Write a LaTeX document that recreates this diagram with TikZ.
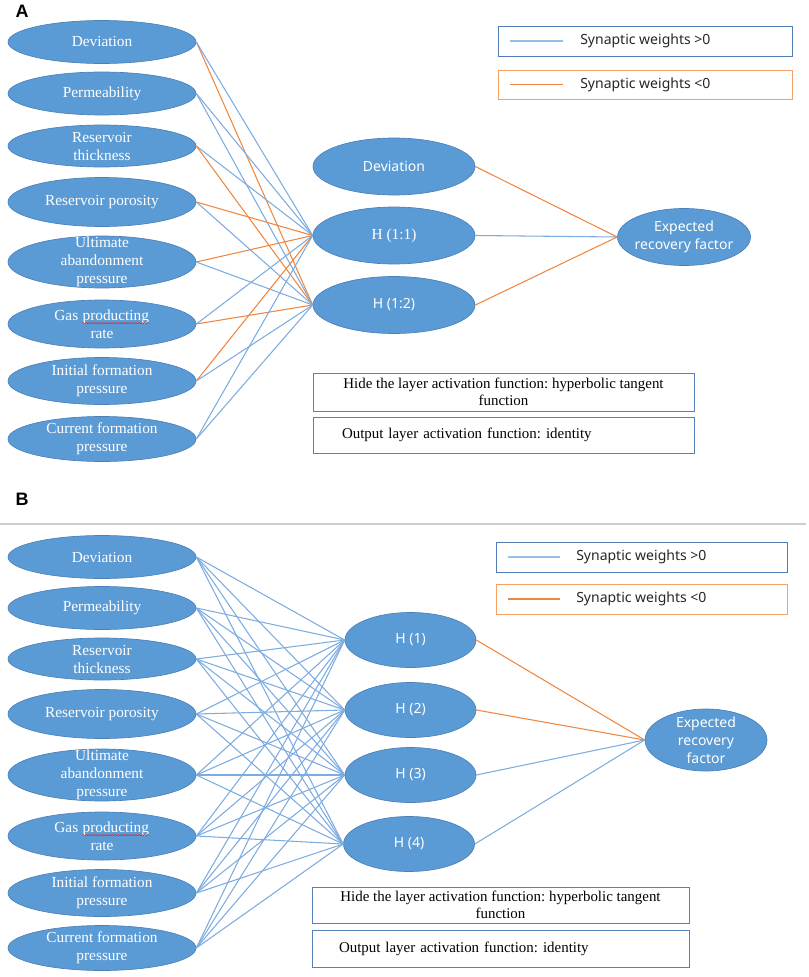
\documentclass[tikz,border=0pt]{standalone}
\usepackage{fontspec}
\setmainfont{Liberation Serif}
\newfontfamily\sansf{Noto Sans}
\newfontfamily\arialf{Liberation Sans}
\usetikzlibrary{shapes.geometric,decorations.pathmorphing}
\definecolor{nodeblue}{RGB}{91,155,213}
\definecolor{nodeedge}{RGB}{75,128,185}
\definecolor{lineblue}{RGB}{125,172,224}
\definecolor{lineorange}{RGB}{240,135,65}
\definecolor{legblue}{RGB}{80,125,185}
\definecolor{legorange}{RGB}{245,160,100}
\definecolor{leglineblue}{RGB}{150,192,232}
\definecolor{boxblue}{RGB}{85,130,190}
\definecolor{wavered}{RGB}{220,40,40}
\definecolor{sepgray}{RGB}{205,205,205}
\frenchspacing
\newcommand\wavy[1]{\tikz[baseline=(w.base)]{\node[inner sep=0pt,text=white] (w) {#1};\draw[wavered, line width=0.4pt, decorate, decoration={snake, amplitude=0.5pt, segment length=2.2pt}] ([yshift=-2.2pt]w.base west) -- ([yshift=-2.2pt]w.base east);}}
\begin{document}
\begin{tikzpicture}[x=0.75pt,y=-0.75pt,
  ell/.style={ellipse, fill=nodeblue, draw=nodeedge, line width=0.5pt, inner sep=0pt},
  inp/.style={ell, minimum width=141pt},
  intext/.style={text=white, align=center, inner sep=0pt, font=\fontsize{11.5}{13.5}\selectfont},
  sanstext/.style={text=white, align=center, inner sep=0pt, font=\sansf\fontsize{10.5}{13.5}\selectfont},
  hidA/.style={ell, minimum width=121.5pt, minimum height=42.75pt, text=white},
  hidB/.style={ell, minimum width=98.25pt, minimum height=41.25pt, text=white, font=\sansf\fontsize{10.5}{13}\selectfont},
  pw/.style={draw=lineblue, line width=0.8pt},
  nw/.style={draw=lineorange, line width=0.8pt},
  legpos/.style={draw=leglineblue, line width=0.8pt},
  legneg/.style={draw=lineorange, line width=0.8pt},
  legbox/.style={rectangle, line width=0.7pt, inner sep=0pt},
  legtext/.style={inner sep=0pt, anchor=west, text=black!85, font=\sansf\fontsize{10.5}{13}\selectfont},
  tbox/.style={rectangle, draw=boxblue, line width=0.7pt, inner sep=0pt, font=\fontsize{11.2}{12.8}\selectfont},
  panel/.style={inner sep=0pt, font=\arialf\bfseries\fontsize{13.5}{15}\selectfont}
]
\useasboundingbox (0,0) rectangle (809,977);

% ---------- Panel A ----------
\node[panel] (labA) at (22,11) {A};
\foreach \n/\y/\h/\t in {
  1/42/43/{Deviation},
  2/93.5/43/{Permeability},
  3/146/42/{Reservoir\\thickness},
  4/202/49/{Reservoir porosity},
  5/262/52/{Ultimate\\abandonment\\pressure},
  6/324/48/{Gas \wavy{producting}\\rate},
  7/381/47/{Initial formation\\pressure},
  8/439/45/{Current formation\\pressure}}
  \node[inp, minimum height=\h*0.75pt, label={[intext]center:\t}] (a\n) at (102,\y) {};

\node[hidA, font=\sansf\fontsize{10.5}{13}\selectfont] (ahd) at (394,166.5) {Deviation};
\node[hidA, font=\fontsize{11.5}{13.5}\selectfont] (ah1) at (394,235.5) {H (1:1)};
\node[hidA, font=\sansf\fontsize{10.5}{13}\selectfont] (ah2) at (394,305) {H (1:2)};
\node[ell, minimum width=99.75pt, minimum height=42.75pt, label={[sanstext]center:Expected\\recovery factor}] (aerf) at (684,237) {};

% A: input -> hidden
\draw[nw] (a1.east) -- (ah2.west);
\draw[pw] (a1.east) -- (ah1.west);
\draw[pw] (a2.east) -- (ah1.west);
\draw[pw] (a2.east) -- (ah2.west);
\draw[pw] (a3.east) -- (ah1.west);
\draw[nw] (a3.east) -- (ah2.west);
\draw[nw] (a4.east) -- (ah1.west);
\draw[pw] (a4.east) -- (ah2.west);
\draw[nw] (a5.east) -- (ah1.west);
\draw[pw] (a5.east) -- (ah2.west);
\draw[pw] (a6.east) -- (ah1.west);
\draw[nw] (a6.east) -- (ah2.west);
\draw[nw] (a7.east) -- (ah1.west);
\draw[pw] (a7.east) -- (ah2.west);
\draw[pw] (a8.east) -- (ah1.west);
\draw[pw] (a8.east) -- (ah2.west);
% A: hidden -> output
\draw[nw] (ahd.east) -- (aerf.west);
\draw[pw] (ah1.east) -- (aerf.west);
\draw[nw] (ah2.east) -- (aerf.west);

% A legend
\node[legbox, draw=legblue, minimum width=220.5pt, minimum height=22.5pt] (alg1) at (645,41) {};
\coordinate (alg1s) at (510,41); \coordinate (alg1e) at (563,41);
\draw[legpos] (alg1s) -- (alg1e);
\node[legtext] (alg1t) at (580,41) {Synaptic weights >0};
\node[legbox, draw=legorange, minimum width=220.5pt, minimum height=21.75pt] (alg2) at (645,84.5) {};
\coordinate (alg2s) at (510,84.5); \coordinate (alg2e) at (563,84.5);
\draw[legneg] (alg2s) -- (alg2e);
\node[legtext] (alg2t) at (580,84.5) {Synaptic weights <0};

% A text boxes
\node[tbox, minimum width=285.75pt, minimum height=28.5pt, align=center] (ahide) at (503.5,392) {Hide the layer activation function: hyperbolic tangent\\function};
\node[tbox, text width=242.25pt, inner xsep=21.75pt, minimum height=27pt, align=left] (aout) at (503.5,435) {Output layer activation function: identity};

% separator
\coordinate (sepl) at (0,524); \coordinate (sepr) at (806,524);
\draw[sepgray, line width=0.8pt] (sepl) -- (sepr);

% ---------- Panel B ----------
\node[panel] (labB) at (22,499) {B};
\foreach \n/\y/\h/\t in {
  1/557/43/{Deviation},
  2/608/43/{Permeability},
  3/659/42/{Reservoir\\thickness},
  4/714/49/{Reservoir porosity},
  5/775/52/{Ultimate\\abandonment\\pressure},
  6/836/48/{Gas \wavy{producting}\\rate},
  7/893/47/{Initial formation\\pressure},
  8/948/45/{Current formation\\pressure}}
  \node[inp, minimum height=\h*0.75pt, label={[intext]center:\t}] (b\n) at (102,\y) {};

\node[hidB] (bh1) at (410.5,640) {H (1)};
\node[hidB] (bh2) at (410.5,710) {H (2)};
\node[hidB] (bh3) at (410.5,775) {H (3)};
\node[hidB] (bh4) at (409,844) {H (4)};
\node[ell, minimum width=91.5pt, minimum height=46.5pt, label={[sanstext]center:Expected\\recovery\\factor}] (berf) at (706,740) {};

\foreach \i in {1,...,8}
  \foreach \j in {1,...,4}
    \draw[pw] (b\i.east) -- (bh\j.west);
\draw[nw] (bh1.east) -- (berf.west);
\draw[nw] (bh2.east) -- (berf.west);
\draw[pw] (bh3.east) -- (berf.west);
\draw[pw] (bh4.east) -- (berf.west);

% B legend
\node[legbox, draw=legblue, minimum width=218.25pt, minimum height=22.5pt] (blg1) at (641.5,557) {};
\coordinate (blgAs) at (508,557); \coordinate (blgAe) at (560,557);
\draw[legpos] (blgAs) -- (blgAe);
\node[legtext] (blg1t) at (576,557) {Synaptic weights >0};
\node[legbox, draw=legorange, minimum width=218.25pt, minimum height=22.5pt] (blg2) at (641.5,599) {};
\coordinate (blgBs) at (508,599); \coordinate (blgBe) at (560,599);
\draw[legneg] (blgBs) -- (blgBe);
\node[legtext] (blg2t) at (576,599) {Synaptic weights <0};

% B text boxes
\node[tbox, minimum width=282.75pt, minimum height=27pt, align=center] (bhide) at (500.5,905) {Hide the layer activation function: hyperbolic tangent\\function};
\node[tbox, text width=242.25pt, inner xsep=20.25pt, minimum height=27.75pt, align=left] (bout) at (500.5,948.5) {Output layer activation function: identity};
\end{tikzpicture}
\end{document}
